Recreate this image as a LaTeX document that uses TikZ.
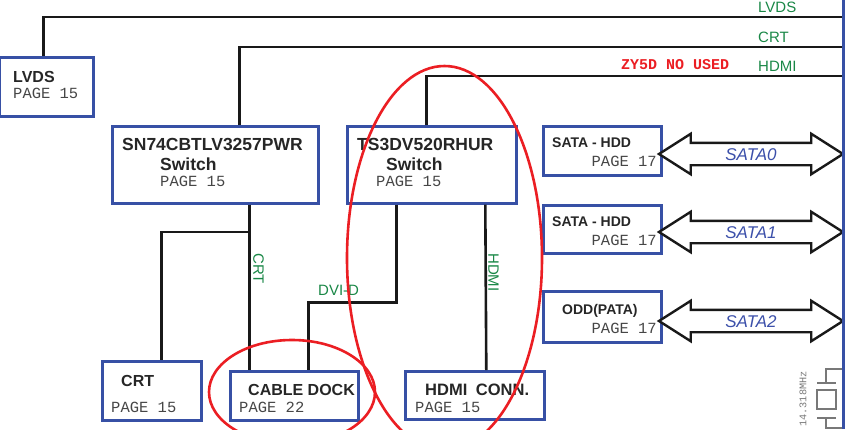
\documentclass[tikz,border=0pt]{standalone}
\usepackage{fontspec}
\setmainfont{Liberation Sans}
\setmonofont{Liberation Mono}
\usetikzlibrary{shapes.arrows, positioning, calc}
\definecolor{boxblue}{RGB}{55, 80, 165}
\definecolor{pagegray}{RGB}{70, 70, 70}
\definecolor{wirecol}{RGB}{25, 25, 25}
\definecolor{netgreen}{RGB}{25, 135, 70}
\definecolor{satablue}{RGB}{60, 80, 170}
\definecolor{markred}{RGB}{235, 30, 35}
\definecolor{xtalgray}{RGB}{120, 120, 120}

\begin{document}
\begin{tikzpicture}[
            x=1pt, y=-1pt,
            box/.style={draw=boxblue, line width=2.6pt, inner sep=0pt, anchor=north west},
            hdr/.style={anchor=base west, inner sep=0pt, font=\fontsize{#1}{#1}\selectfont\bfseries, text=black!85},
            hdr/.default=16,
            pg/.style={anchor=base west, inner sep=0pt, font=\ttfamily\fontsize{15.5}{16}\selectfont, text=pagegray},
            net/.style={inner sep=0pt, font=\fontsize{15}{15}\selectfont, text=netgreen},
            wire/.style={draw=wirecol, line width=2.6pt},
            sata/.style={double arrow, draw=wirecol, line width=2.4pt, fill=white, minimum height=184pt, minimum width=38pt,
                double arrow head extend=9pt, double arrow tip angle=65, inner xsep=0pt, inner ysep=4pt,
                text height=12pt, text depth=0pt, font=\itshape\fontsize{17}{17}\selectfont, text=satablue},
            ring/.style={draw=markred, line width=2.6pt}
        ]
            \useasboundingbox (0,0) rectangle (847,429);

            % blocks
            \node[box, minimum width=94pt, minimum height=59pt] (lvds) at (-2,56) {};
            \node[box, minimum width=206pt, minimum height=77pt] (sn) at (111,125) {};
            \node[box, minimum width=169pt, minimum height=77pt] (ts) at (346,125) {};
            \node[box, minimum width=118pt, minimum height=49pt] (hdd0) at (542,125) {};
            \node[box, minimum width=118pt, minimum height=48pt] (hdd1) at (542,204) {};
            \node[box, minimum width=118pt, minimum height=51pt] (odd) at (542,290) {};
            \node[box, minimum width=99pt, minimum height=59pt] (crt) at (101,360) {};
            \node[box, minimum width=128pt, minimum height=49pt] (dock) at (229,370) {};
            \node[box, minimum width=139pt, minimum height=48pt] (hdmi) at (404,370) {};

            % block texts
            \node[hdr] (lvds-t) at (13,82) {LVDS};
            \node[pg] (lvds-p) at (13,98) {PAGE 15};
            \node[hdr=17.5] (sn-t) at (122,150) {SN74CBTLV3257PWR};
            \node[hdr=17.5] (sn-s) at (160,170) {Switch};
            \node[pg] (sn-p) at (160,186) {PAGE 15};
            \node[hdr=17.5] (ts-t) at (357,150) {TS3DV520RHUR};
            \node[hdr=17.5] (ts-s) at (386,170) {Switch};
            \node[pg] (ts-p) at (376,186) {PAGE 15};
            \node[hdr=14] (hdd0-t) at (552,147) {SATA - HDD};
            \node[pg, anchor=base east] (hdd0-p) at (657,166) {PAGE 17};
            \node[hdr=14] (hdd1-t) at (552,226) {SATA - HDD};
            \node[pg, anchor=base east] (hdd1-p) at (657,245) {PAGE 17};
            \node[hdr=14] (odd-t) at (562,314) {ODD(PATA)};
            \node[pg, anchor=base east] (odd-p) at (657,333) {PAGE 17};
            \node[hdr] (crt-t) at (121,386) {CRT};
            \node[pg] (crt-p) at (111,412) {PAGE 15};
            \node[hdr] (dock-t) at (248,395) {CABLE DOCK};
            \node[pg] (dock-p) at (239,412) {PAGE 22};
            \node[hdr=16.5] (hdmi-t) at (425,395) {HDMI\hspace{4pt} CONN.};
            \node[pg] (hdmi-p) at (415,412) {PAGE 15};

            % bus taps on the right
            \coordinate (bus-lvds) at (843,17);
            \coordinate (bus-crt) at (843,47);
            \coordinate (bus-hdmi) at (843,76);
            \coordinate (tap) at (248,232);

            \draw[wire] ([xshift=-3pt]lvds.north) |- (bus-lvds);
            \draw[wire] ([xshift=24pt]sn.north) |- (bus-crt);
            \draw[wire] ([xshift=-5.5pt]ts.north) |- (bus-hdmi);
            \draw[wire] ([xshift=34pt]sn.south) -- ([xshift=-45pt]dock.north);
            \draw[wire] (tap) -| ([xshift=9.5pt]crt.north);
            \draw[wire] ([xshift=-35.5pt]ts.south) -- ++(0,98) -| ([xshift=14pt]dock.north);
            \draw[wire] ([xshift=53.5pt]ts.south) -- ([xshift=11.5pt]hdmi.north);

            % net names
            \node[net, anchor=base west] (n-lvds) at (758,12) {LVDS};
            \node[net, anchor=base west] (n-crt) at (758,42) {CRT};
            \node[net, anchor=base west] (n-hdmi) at (758,71) {HDMI};
            \node[anchor=base west, inner sep=0pt, font=\ttfamily\bfseries\fontsize{15}{15}\selectfont, text=markred] (nouse) at (621,69) {ZY5D NO USED};
            \node[net, rotate=-90, anchor=north west] (n-crt2) at (264,253) {CRT};
            \node[net, rotate=-90, anchor=north west] (n-hdmi2) at (499,253) {HDMI};
            \node[net, anchor=base west] (n-dvi) at (318,295) {DVI-D};

            % SATA links
            \node[sata] (sata0) at (751,154) {SATA0};
            \node[sata] (sata1) at (751,232) {SATA1};
            \node[sata] (sata2) at (751,321) {SATA2};

            % crystal
            \draw[xtalgray, line width=1.2pt] (842,369) -- (826,369) -- (826,383) (817,383) -- (836,383)
                (817,390) rectangle (836,409) (817,418) -- (836,418) (826,418) -- (826,428) -- (842,428);
            \node[rotate=90, inner sep=0pt, font=\ttfamily\fontsize{10.2}{10}\selectfont, text=xtalgray] (xtal) at (803,399) {14.318MHz};

            % bus
            \draw[boxblue, line width=3pt] (843,0) -- (843,429);

            % marks
            \draw[ring] (444.5,258) ellipse [x radius=97.5pt, y radius=192pt];
            \draw[ring] (292,392) ellipse [x radius=83pt, y radius=52pt];
        \end{tikzpicture}
\end{document}
